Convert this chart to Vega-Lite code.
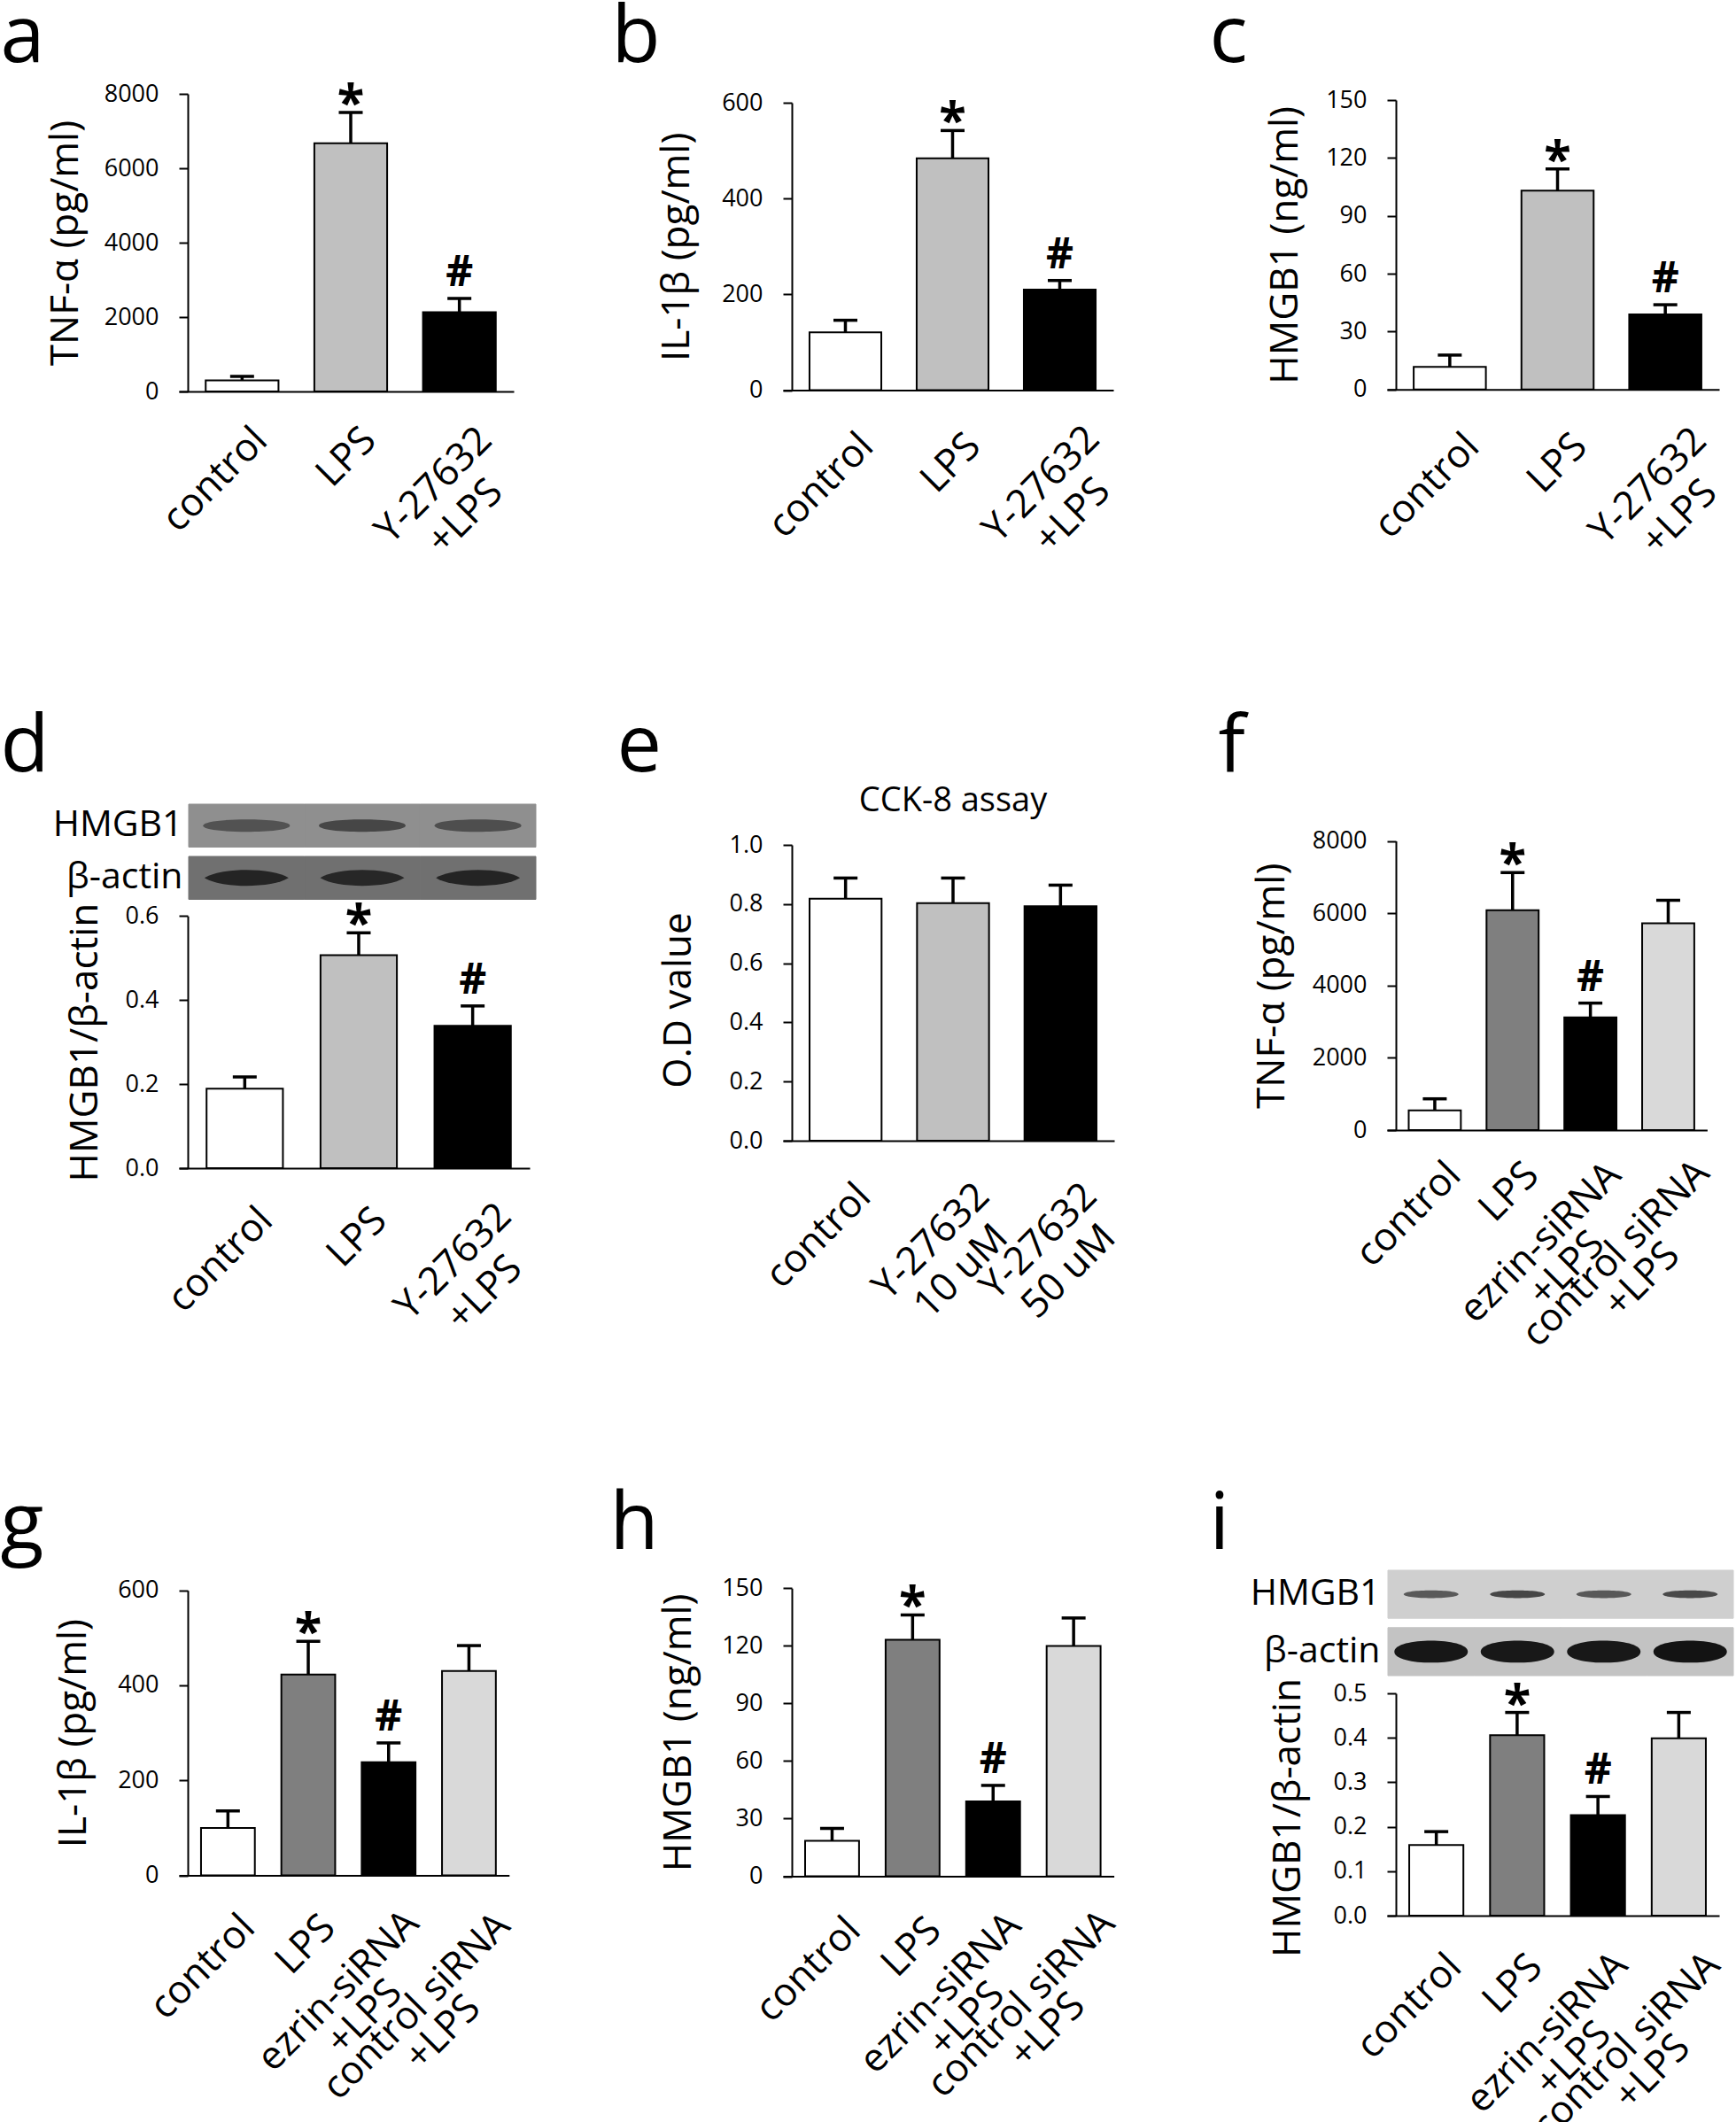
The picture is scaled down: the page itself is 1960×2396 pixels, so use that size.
{
  "$schema": "https://vega.github.io/schema/vega-lite/v6.json",
  "background": "white",
  "padding": {"left": 0, "top": -3, "right": 0, "bottom": 0},
  "datasets": {
    "a": [
      {"group": "control", "mean": 300, "upper": 405, "sig": ""},
      {"group": "LPS", "mean": 6670, "upper": 7500, "sig": "*"},
      {"group": "Y-27632\n+LPS", "mean": 2130, "upper": 2500, "sig": "#"}
    ],
    "b": [
      {"group": "control", "mean": 121, "upper": 146, "sig": ""},
      {"group": "LPS", "mean": 484, "upper": 542, "sig": "*"},
      {"group": "Y-27632\n+LPS", "mean": 210, "upper": 229, "sig": "#"}
    ],
    "c": [
      {"group": "control", "mean": 11.7, "upper": 17.8, "sig": ""},
      {"group": "LPS", "mean": 103.1, "upper": 114.3, "sig": "*"},
      {"group": "Y-27632\n+LPS", "mean": 38.9, "upper": 43.9, "sig": "#"}
    ],
    "d": [
      {"group": "control", "mean": 0.189, "upper": 0.217, "sig": ""},
      {"group": "LPS", "mean": 0.507, "upper": 0.56, "sig": "*"},
      {"group": "Y-27632\n+LPS", "mean": 0.339, "upper": 0.386, "sig": "#"}
    ],
    "e": [
      {"group": "control", "mean": 0.818, "upper": 0.888, "sig": ""},
      {"group": "Y-27632\n10 uM", "mean": 0.803, "upper": 0.888, "sig": ""},
      {"group": "Y-27632\n50 uM", "mean": 0.793, "upper": 0.864, "sig": ""}
    ],
    "f": [
      {"group": "control", "mean": 547, "upper": 865, "sig": ""},
      {"group": "LPS", "mean": 6085, "upper": 7124, "sig": "*"},
      {"group": "ezrin-siRNA\n+LPS", "mean": 3119, "upper": 3513, "sig": "#"},
      {"group": "control siRNA\n+LPS", "mean": 5724, "upper": 6358, "sig": ""}
    ],
    "g": [
      {"group": "control", "mean": 99.7, "upper": 135.7, "sig": ""},
      {"group": "LPS", "mean": 422.8, "upper": 492.9, "sig": "*"},
      {"group": "ezrin-siRNA\n+LPS", "mean": 238.2, "upper": 278.8, "sig": "#"},
      {"group": "control siRNA\n+LPS", "mean": 430.2, "upper": 483.7, "sig": ""}
    ],
    "h": [
      {"group": "control", "mean": 18.5, "upper": 24.9, "sig": ""},
      {"group": "LPS", "mean": 123.1, "upper": 136.1, "sig": "*"},
      {"group": "ezrin-siRNA\n+LPS", "mean": 39.0, "upper": 47.3, "sig": "#"},
      {"group": "control siRNA\n+LPS", "mean": 119.9, "upper": 134.5, "sig": ""}
    ],
    "i": [
      {"group": "control", "mean": 0.159, "upper": 0.189, "sig": ""},
      {"group": "LPS", "mean": 0.406, "upper": 0.457, "sig": "*"},
      {"group": "ezrin-siRNA\n+LPS", "mean": 0.226, "upper": 0.268, "sig": "#"},
      {"group": "control siRNA\n+LPS", "mean": 0.399, "upper": 0.457, "sig": ""}
    ],
    "blot_d": [
      {"lane": "control", "blot": "HMGB1", "intensity": 0.52},
      {"lane": "LPS", "blot": "HMGB1", "intensity": 0.62},
      {"lane": "Y-27632\n+LPS", "blot": "HMGB1", "intensity": 0.55},
      {"lane": "control", "blot": "β-actin", "intensity": 0.78},
      {"lane": "LPS", "blot": "β-actin", "intensity": 0.76},
      {"lane": "Y-27632\n+LPS", "blot": "β-actin", "intensity": 0.78}
    ],
    "blot_i": [
      {"lane": "control", "blot": "HMGB1", "intensity": 0.65},
      {"lane": "LPS", "blot": "HMGB1", "intensity": 0.76},
      {"lane": "ezrin-siRNA\n+LPS", "blot": "HMGB1", "intensity": 0.66},
      {"lane": "control siRNA\n+LPS", "blot": "HMGB1", "intensity": 0.74},
      {"lane": "control", "blot": "β-actin", "intensity": 0.93},
      {"lane": "LPS", "blot": "β-actin", "intensity": 0.92},
      {"lane": "ezrin-siRNA\n+LPS", "blot": "β-actin", "intensity": 0.92},
      {"lane": "control siRNA\n+LPS", "blot": "β-actin", "intensity": 0.95}
    ]
  },
  "concat": [
    {
      "width": 375, "height": 336,
      "data": {"name": "a"},
      "layer": [
        {"layer": [
          {"mark": {"type": "bar", "stroke": "#000000", "strokeWidth": 2},
           "encoding": {
             "x": {"field": "group", "type": "nominal", "scale": {"domain": ["control", "LPS", "Y-27632\n+LPS"], "range": [-10, 368], "paddingInner": 0.33, "paddingOuter": 0.2058, "align": 0.599},
                   "axis": {"title": null, "orient": "bottom", "labels": false}},
             "y": {"field": "mean", "type": "quantitative", "scale": {"domain": [0, 8000], "range": [336, 0], "nice": false},
                   "axis": {"title": "TNF-α (pg/ml)", "orient": "left", "values": [0, 2000, 4000, 6000, 8000], "format": "d", "titleX": -125}},
             "fill": {"field": "group", "type": "nominal", "scale": {"domain": ["control", "LPS", "Y-27632\n+LPS"], "range": ["#ffffff", "#c0c0c0", "#000000"]}, "legend": null}
           }},
          {"mark": {"type": "rule", "color": "#000000", "strokeWidth": 3.5},
           "encoding": {"x": {"field": "group", "type": "nominal"}, "y": {"field": "mean", "type": "quantitative"}, "y2": {"field": "upper"}}},
          {"mark": {"type": "tick", "color": "#000000", "opacity": 1, "size": 27, "thickness": 3.5},
           "encoding": {"x": {"field": "group", "type": "nominal"}, "y": {"field": "upper", "type": "quantitative"}}},
          {"transform": [{"filter": "datum.sig == '*'"}],
           "mark": {"type": "text", "fontSize": 56, "fontWeight": "bold", "baseline": "alphabetic", "dy": 8},
           "encoding": {"x": {"field": "group", "type": "nominal"}, "y": {"field": "upper", "type": "quantitative"}, "text": {"field": "sig"}}},
          {"transform": [{"filter": "datum.sig == '#'"}],
           "mark": {"type": "text", "fontSize": 48, "fontWeight": "bold", "baseline": "alphabetic", "dy": -14},
           "encoding": {"x": {"field": "group", "type": "nominal"}, "y": {"field": "upper", "type": "quantitative"}, "text": {"field": "sig"}}},
          {"transform": [{"filter": "indexof(datum.group, 'Y-27632') < 0"}],
           "mark": {"type": "text", "angle": -45, "align": "right", "baseline": "top", "fontSize": 44, "dx": -19.1, "dy": 27.6},
           "encoding": {"x": {"field": "group", "type": "nominal"}, "y": {"datum": 0, "type": "quantitative"}, "text": {"field": "group"}}},
          {"transform": [{"filter": "indexof(datum.group, 'Y-27632') >= 0"}],
           "mark": {"type": "text", "angle": -45, "align": "center", "baseline": "top", "fontSize": 44, "lineBreak": "\n", "lineHeight": 50, "dx": -95.4, "dy": 33.2},
           "encoding": {"x": {"field": "group", "type": "nominal"}, "y": {"datum": 0, "type": "quantitative"}, "text": {"field": "group"}}}
        ]},
        {"mark": {"type": "point", "opacity": 0},
         "encoding": {"x": {"field": "group", "type": "nominal", "axis": {"orient": "top", "labels": false, "ticks": false, "domain": false, "title": "a", "titleX": -212, "titleY": -37, "titleAlign": "left", "titleAngle": 0, "titleBaseline": "alphabetic", "titleFontSize": 90, "titleFontWeight": "normal"}}}}
      ],
      "resolve": {"axis": {"x": "independent"}}
    },
    {
      "width": 375, "height": 334.6,
      "data": {"name": "b"},
      "layer": [
        {"layer": [
          {"mark": {"type": "bar", "stroke": "#000000", "strokeWidth": 2},
           "encoding": {
             "x": {"field": "group", "type": "nominal", "scale": {"domain": ["control", "LPS", "Y-27632\n+LPS"], "range": [-10, 363], "paddingInner": 0.33, "paddingOuter": 0.2063, "align": 0.6},
                   "axis": {"title": null, "orient": "bottom", "labels": false}},
             "y": {"field": "mean", "type": "quantitative", "scale": {"domain": [0, 600], "range": [334.6, 10], "nice": false},
                   "axis": {"title": "IL-1β (pg/ml)", "orient": "left", "values": [0, 200, 400, 600], "format": "d", "titleX": -116.6}},
             "fill": {"field": "group", "type": "nominal", "scale": {"domain": ["control", "LPS", "Y-27632\n+LPS"], "range": ["#ffffff", "#c0c0c0", "#000000"]}, "legend": null}
           }},
          {"mark": {"type": "rule", "color": "#000000", "strokeWidth": 3.5},
           "encoding": {"x": {"field": "group", "type": "nominal"}, "y": {"field": "mean", "type": "quantitative"}, "y2": {"field": "upper"}}},
          {"mark": {"type": "tick", "color": "#000000", "opacity": 1, "size": 27, "thickness": 3.5},
           "encoding": {"x": {"field": "group", "type": "nominal"}, "y": {"field": "upper", "type": "quantitative"}}},
          {"transform": [{"filter": "datum.sig == '*'"}],
           "mark": {"type": "text", "fontSize": 56, "fontWeight": "bold", "baseline": "alphabetic", "dy": 8},
           "encoding": {"x": {"field": "group", "type": "nominal"}, "y": {"field": "upper", "type": "quantitative"}, "text": {"field": "sig"}}},
          {"transform": [{"filter": "datum.sig == '#'"}],
           "mark": {"type": "text", "fontSize": 48, "fontWeight": "bold", "baseline": "alphabetic", "dy": -14},
           "encoding": {"x": {"field": "group", "type": "nominal"}, "y": {"field": "upper", "type": "quantitative"}, "text": {"field": "sig"}}},
          {"transform": [{"filter": "indexof(datum.group, 'Y-27632') < 0"}],
           "mark": {"type": "text", "angle": -45, "align": "right", "baseline": "top", "fontSize": 44, "dx": -22.6, "dy": 35.4},
           "encoding": {"x": {"field": "group", "type": "nominal"}, "y": {"datum": 0, "type": "quantitative"}, "text": {"field": "group"}}},
          {"transform": [{"filter": "indexof(datum.group, 'Y-27632') >= 0"}],
           "mark": {"type": "text", "angle": -45, "align": "center", "baseline": "top", "fontSize": 44, "lineBreak": "\n", "lineHeight": 50, "dx": -89.8, "dy": 39},
           "encoding": {"x": {"field": "group", "type": "nominal"}, "y": {"datum": 0, "type": "quantitative"}, "text": {"field": "group"}}}
        ]},
        {"mark": {"type": "point", "opacity": 0},
         "encoding": {"x": {"field": "group", "type": "nominal", "axis": {"orient": "top", "labels": false, "ticks": false, "domain": false, "title": "b", "titleX": -204, "titleY": -37, "titleAlign": "left", "titleAngle": 0, "titleBaseline": "alphabetic", "titleFontSize": 90, "titleFontWeight": "normal"}}}}
      ],
      "resolve": {"axis": {"x": "independent"}}
    },
    {
      "width": 375, "height": 333.7,
      "data": {"name": "c"},
      "layer": [
        {"layer": [
          {"mark": {"type": "bar", "stroke": "#000000", "strokeWidth": 2},
           "encoding": {
             "x": {"field": "group", "type": "nominal", "scale": {"domain": ["control", "LPS", "Y-27632\n+LPS"], "range": [-10, 365], "paddingInner": 0.33, "paddingOuter": 0.2061, "align": 0.6},
                   "axis": {"title": null, "orient": "bottom", "labels": false}},
             "y": {"field": "mean", "type": "quantitative", "scale": {"domain": [0, 150], "range": [333.7, 7], "nice": false},
                   "axis": {"title": "HMGB1 (ng/ml)", "orient": "left", "values": [0, 30, 60, 90, 120, 150], "format": "d", "titleX": -111.6}},
             "fill": {"field": "group", "type": "nominal", "scale": {"domain": ["control", "LPS", "Y-27632\n+LPS"], "range": ["#ffffff", "#c0c0c0", "#000000"]}, "legend": null}
           }},
          {"mark": {"type": "rule", "color": "#000000", "strokeWidth": 3.5},
           "encoding": {"x": {"field": "group", "type": "nominal"}, "y": {"field": "mean", "type": "quantitative"}, "y2": {"field": "upper"}}},
          {"mark": {"type": "tick", "color": "#000000", "opacity": 1, "size": 27, "thickness": 3.5},
           "encoding": {"x": {"field": "group", "type": "nominal"}, "y": {"field": "upper", "type": "quantitative"}}},
          {"transform": [{"filter": "datum.sig == '*'"}],
           "mark": {"type": "text", "fontSize": 56, "fontWeight": "bold", "baseline": "alphabetic", "dy": 8},
           "encoding": {"x": {"field": "group", "type": "nominal"}, "y": {"field": "upper", "type": "quantitative"}, "text": {"field": "sig"}}},
          {"transform": [{"filter": "datum.sig == '#'"}],
           "mark": {"type": "text", "fontSize": 48, "fontWeight": "bold", "baseline": "alphabetic", "dy": -14},
           "encoding": {"x": {"field": "group", "type": "nominal"}, "y": {"field": "upper", "type": "quantitative"}, "text": {"field": "sig"}}},
          {"transform": [{"filter": "indexof(datum.group, 'Y-27632') < 0"}],
           "mark": {"type": "text", "angle": -45, "align": "right", "baseline": "top", "fontSize": 44, "dx": -22.4, "dy": 37.5},
           "encoding": {"x": {"field": "group", "type": "nominal"}, "y": {"datum": 0, "type": "quantitative"}, "text": {"field": "group"}}},
          {"transform": [{"filter": "indexof(datum.group, 'Y-27632') >= 0"}],
           "mark": {"type": "text", "angle": -45, "align": "center", "baseline": "top", "fontSize": 44, "lineBreak": "\n", "lineHeight": 50, "dx": -90.8, "dy": 42.1},
           "encoding": {"x": {"field": "group", "type": "nominal"}, "y": {"datum": 0, "type": "quantitative"}, "text": {"field": "group"}}}
        ]},
        {"mark": {"type": "point", "opacity": 0},
         "encoding": {"x": {"field": "group", "type": "nominal", "axis": {"orient": "top", "labels": false, "ticks": false, "domain": false, "title": "c", "titleX": -211, "titleY": -37, "titleAlign": "left", "titleAngle": 0, "titleBaseline": "alphabetic", "titleFontSize": 90, "titleFontWeight": "normal"}}}}
      ],
      "resolve": {"axis": {"x": "independent"}}
    },
    {
      "width": 375, "height": 423,
      "data": {"name": "d"},
      "layer": [
        {"layer": [
          {"mark": {"type": "bar", "stroke": "#000000", "strokeWidth": 2},
           "encoding": {
             "x": {"field": "group", "type": "nominal", "scale": {"domain": ["control", "LPS", "Y-27632\n+LPS"], "range": [-10, 386], "paddingInner": 0.33, "paddingOuter": 0.2039, "align": 0.595},
                   "axis": {"title": null, "orient": "bottom", "labels": false}},
             "y": {"field": "mean", "type": "quantitative", "scale": {"domain": [0, 0.6], "range": [423, 138.3], "nice": false},
                   "axis": {"title": "HMGB1/β-actin", "orient": "left", "values": [0, 0.2, 0.4, 0.6], "format": ".1f", "titleX": -103}},
             "fill": {"field": "group", "type": "nominal", "scale": {"domain": ["control", "LPS", "Y-27632\n+LPS"], "range": ["#ffffff", "#c0c0c0", "#000000"]}, "legend": null}
           }},
          {"mark": {"type": "rule", "color": "#000000", "strokeWidth": 3.5},
           "encoding": {"x": {"field": "group", "type": "nominal"}, "y": {"field": "mean", "type": "quantitative"}, "y2": {"field": "upper"}}},
          {"mark": {"type": "tick", "color": "#000000", "opacity": 1, "size": 27, "thickness": 3.5},
           "encoding": {"x": {"field": "group", "type": "nominal"}, "y": {"field": "upper", "type": "quantitative"}}},
          {"transform": [{"filter": "datum.sig == '*'"}],
           "mark": {"type": "text", "fontSize": 56, "fontWeight": "bold", "baseline": "alphabetic", "dy": 8},
           "encoding": {"x": {"field": "group", "type": "nominal"}, "y": {"field": "upper", "type": "quantitative"}, "text": {"field": "sig"}}},
          {"transform": [{"filter": "datum.sig == '#'"}],
           "mark": {"type": "text", "fontSize": 48, "fontWeight": "bold", "baseline": "alphabetic", "dy": -14},
           "encoding": {"x": {"field": "group", "type": "nominal"}, "y": {"field": "upper", "type": "quantitative"}, "text": {"field": "sig"}}},
          {"transform": [{"filter": "indexof(datum.group, 'Y-27632') < 0"}],
           "mark": {"type": "text", "angle": -45, "align": "right", "baseline": "top", "fontSize": 44, "dx": -19.8, "dy": 32.5},
           "encoding": {"x": {"field": "group", "type": "nominal"}, "y": {"datum": 0, "type": "quantitative"}, "text": {"field": "group"}}},
          {"transform": [{"filter": "indexof(datum.group, 'Y-27632') >= 0"}],
           "mark": {"type": "text", "angle": -45, "align": "center", "baseline": "top", "fontSize": 44, "lineBreak": "\n", "lineHeight": 50, "dx": -90.1, "dy": 37.8},
           "encoding": {"x": {"field": "group", "type": "nominal"}, "y": {"datum": 0, "type": "quantitative"}, "text": {"field": "group"}}}
        ]},
        {"data": {"name": "blot_d"},
         "layer": [
          {"transform": [{"filter": "datum.blot == 'HMGB1'"}],
           "mark": {"type": "rect", "fill": "#8f8f8f", "stroke": "#8f8f8f", "strokeWidth": 1},
           "encoding": {
             "x": {"field": "lane", "type": "nominal", "scale": {"domain": ["control", "LPS", "Y-27632\n+LPS"], "range": [1, 393], "paddingInner": 0, "paddingOuter": 0}, "axis": null},
             "y": {"field": "blot", "type": "nominal", "scale": {"domain": ["HMGB1", "β-actin"], "range": [12, 119.5], "paddingInner": 0.178, "paddingOuter": 0},
                   "axis": {"orient": "left", "title": null, "domain": false, "ticks": false, "tickSize": 0, "labelFontSize": 41, "labelPadding": 6}}
           }},
          {"transform": [{"filter": "datum.blot == 'β-actin'"}],
           "mark": {"type": "rect", "fill": "#707070", "stroke": "#707070", "strokeWidth": 1},
           "encoding": {"x": {"field": "lane", "type": "nominal", "axis": null}, "y": {"field": "blot", "type": "nominal"}}},
          {"transform": [{"filter": "datum.blot == 'HMGB1'"}],
           "mark": {"type": "point", "filled": true, "shape": "M-1,0C-1,-0.19 1,-0.19 1,0C1,0.19 -1,0.19 -1,0Z", "size": 9600, "color": "#1a1a1a", "strokeWidth": 0},
           "encoding": {"x": {"field": "lane", "type": "nominal", "axis": null}, "y": {"field": "blot", "type": "nominal"},
                        "opacity": {"field": "intensity", "type": "quantitative", "scale": {"domain": [0, 1], "range": [0, 1]}, "legend": null}}},
          {"transform": [{"filter": "datum.blot == 'β-actin'"}],
           "mark": {"type": "point", "filled": true, "shape": "M-1,0C-0.6,-0.25 0.6,-0.25 1,0C0.6,0.25 -0.6,0.25 -1,0Z", "size": 9025, "color": "#101010", "strokeWidth": 0},
           "encoding": {"x": {"field": "lane", "type": "nominal", "axis": null}, "y": {"field": "blot", "type": "nominal"},
                        "opacity": {"field": "intensity", "type": "quantitative"}}}
         ]},
        {"mark": {"type": "point", "opacity": 0},
         "encoding": {"x": {"field": "group", "type": "nominal", "axis": {"orient": "top", "labels": false, "ticks": false, "domain": false, "title": "d", "titleX": -212, "titleY": -26, "titleAlign": "left", "titleAngle": 0, "titleBaseline": "alphabetic", "titleFontSize": 90, "titleFontWeight": "normal"}}}}
      ],
      "resolve": {"scale": {"x": "independent", "y": "independent"}, "axis": {"x": "independent", "y": "independent"}}
    },
    {
      "width": 375, "height": 392,
      "data": {"name": "e"},
      "layer": [
        {"layer": [
          {"mark": {"type": "bar", "stroke": "#000000", "strokeWidth": 2},
           "encoding": {
             "x": {"field": "group", "type": "nominal", "scale": {"domain": ["control", "Y-27632\n10 uM", "Y-27632\n50 uM"], "range": [-10, 364], "paddingInner": 0.33, "paddingOuter": 0.2062, "align": 0.6},
                   "axis": {"title": null, "orient": "bottom", "labels": false}},
             "y": {"field": "mean", "type": "quantitative", "scale": {"domain": [0, 1], "range": [392, 58], "nice": false},
                   "axis": {"title": "O.D value", "orient": "left", "values": [0, 0.2, 0.4, 0.6, 0.8, 1.0], "format": ".1f", "titleX": -114.4, "titleY": 233}},
             "fill": {"field": "group", "type": "nominal", "scale": {"domain": ["control", "Y-27632\n10 uM", "Y-27632\n50 uM"], "range": ["#ffffff", "#c0c0c0", "#000000"]}, "legend": null}
           }},
          {"mark": {"type": "rule", "color": "#000000", "strokeWidth": 3.5},
           "encoding": {"x": {"field": "group", "type": "nominal"}, "y": {"field": "mean", "type": "quantitative"}, "y2": {"field": "upper"}}},
          {"mark": {"type": "tick", "color": "#000000", "opacity": 1, "size": 27, "thickness": 3.5},
           "encoding": {"x": {"field": "group", "type": "nominal"}, "y": {"field": "upper", "type": "quantitative"}}},
          {"transform": [{"filter": "indexof(datum.group, 'Y-27632') < 0"}],
           "mark": {"type": "text", "angle": -45, "align": "right", "baseline": "top", "fontSize": 44, "dx": -24.7, "dy": 33.2},
           "encoding": {"x": {"field": "group", "type": "nominal"}, "y": {"datum": 0, "type": "quantitative"}, "text": {"field": "group"}}},
          {"transform": [{"filter": "indexof(datum.group, 'Y-27632') >= 0"}],
           "mark": {"type": "text", "angle": -45, "align": "center", "baseline": "top", "fontSize": 44, "lineBreak": "\n", "lineHeight": 48, "dx": -97.9, "dy": 41.7},
           "encoding": {"x": {"field": "group", "type": "nominal"}, "y": {"datum": 0, "type": "quantitative"}, "text": {"field": "group"}}},
          {"data": {"values": [{"title": "CCK-8 assay"}]},
           "mark": {"type": "text", "fontSize": 38, "baseline": "alphabetic"},
           "encoding": {"x": {"datum": "Y-27632\n10 uM", "type": "nominal"}, "y": {"datum": 1.114, "type": "quantitative"}, "text": {"field": "title"}}}
        ]},
        {"mark": {"type": "point", "opacity": 0},
         "encoding": {"x": {"field": "group", "type": "nominal", "axis": {"orient": "top", "labels": false, "ticks": false, "domain": false, "title": "e", "titleX": -198, "titleY": -26, "titleAlign": "left", "titleAngle": 0, "titleBaseline": "alphabetic", "titleFontSize": 90, "titleFontWeight": "normal"}}}}
      ],
      "resolve": {"axis": {"x": "independent"}}
    },
    {
      "width": 375, "height": 380,
      "data": {"name": "f"},
      "layer": [
        {"layer": [
          {"mark": {"type": "bar", "stroke": "#000000", "strokeWidth": 2},
           "encoding": {
             "x": {"field": "group", "type": "nominal", "scale": {"domain": ["control", "LPS", "ezrin-siRNA\n+LPS", "control siRNA\n+LPS"], "range": [-10, 351.4], "paddingInner": 0.33, "paddingOuter": 0.2219, "align": 0.628},
                   "axis": {"title": null, "orient": "bottom", "labels": false}},
             "y": {"field": "mean", "type": "quantitative", "scale": {"domain": [0, 8000], "range": [380, 53.5], "nice": false},
                   "axis": {"title": "TNF-α (pg/ml)", "orient": "left", "values": [0, 2000, 4000, 6000, 8000], "format": "d", "titleX": -127}},
             "fill": {"field": "group", "type": "nominal", "scale": {"domain": ["control", "LPS", "ezrin-siRNA\n+LPS", "control siRNA\n+LPS"], "range": ["#ffffff", "#7f7f7f", "#000000", "#d9d9d9"]}, "legend": null}
           }},
          {"mark": {"type": "rule", "color": "#000000", "strokeWidth": 3.5},
           "encoding": {"x": {"field": "group", "type": "nominal"}, "y": {"field": "mean", "type": "quantitative"}, "y2": {"field": "upper"}}},
          {"mark": {"type": "tick", "color": "#000000", "opacity": 1, "size": 27, "thickness": 3.5},
           "encoding": {"x": {"field": "group", "type": "nominal"}, "y": {"field": "upper", "type": "quantitative"}}},
          {"transform": [{"filter": "datum.sig == '*'"}],
           "mark": {"type": "text", "fontSize": 56, "fontWeight": "bold", "baseline": "alphabetic", "dy": 8},
           "encoding": {"x": {"field": "group", "type": "nominal"}, "y": {"field": "upper", "type": "quantitative"}, "text": {"field": "sig"}}},
          {"transform": [{"filter": "datum.sig == '#'"}],
           "mark": {"type": "text", "fontSize": 48, "fontWeight": "bold", "baseline": "alphabetic", "dy": -14},
           "encoding": {"x": {"field": "group", "type": "nominal"}, "y": {"field": "upper", "type": "quantitative"}, "text": {"field": "sig"}}},
          {"transform": [{"filter": "indexof(datum.group, 'siRNA') < 0"}],
           "mark": {"type": "text", "angle": -45, "align": "right", "baseline": "top", "fontSize": 44, "dx": -15.3, "dy": 25.2},
           "encoding": {"x": {"field": "group", "type": "nominal"}, "y": {"datum": 0, "type": "quantitative"}, "text": {"field": "group"}}},
          {"transform": [{"filter": "indexof(datum.group, 'ezrin') >= 0"}],
           "mark": {"type": "text", "angle": -45, "align": "center", "baseline": "top", "fontSize": 44, "lineBreak": "\n", "lineHeight": 42, "dx": -129.7, "dy": 28.7},
           "encoding": {"x": {"field": "group", "type": "nominal"}, "y": {"datum": 0, "type": "quantitative"}, "text": {"field": "group"}}},
          {"transform": [{"filter": "indexof(datum.group, 'control siRNA') >= 0"}],
           "mark": {"type": "text", "angle": -45, "align": "center", "baseline": "top", "fontSize": 44, "lineBreak": "\n", "lineHeight": 42, "dx": -140.4, "dy": 35.4},
           "encoding": {"x": {"field": "group", "type": "nominal"}, "y": {"datum": 0, "type": "quantitative"}, "text": {"field": "group"}}}
        ]},
        {"mark": {"type": "point", "opacity": 0},
         "encoding": {"x": {"field": "group", "type": "nominal", "axis": {"orient": "top", "labels": false, "ticks": false, "domain": false, "title": "f", "titleX": -201, "titleY": -26, "titleAlign": "left", "titleAngle": 0, "titleBaseline": "alphabetic", "titleFontSize": 90, "titleFontWeight": "normal"}}}}
      ],
      "resolve": {"axis": {"x": "independent"}}
    },
    {
      "width": 375, "height": 344.5,
      "data": {"name": "g"},
      "layer": [
        {"layer": [
          {"mark": {"type": "bar", "stroke": "#000000", "strokeWidth": 2},
           "encoding": {
             "x": {"field": "group", "type": "nominal", "scale": {"domain": ["control", "LPS", "ezrin-siRNA\n+LPS", "control siRNA\n+LPS"], "range": [-10, 362.8], "paddingInner": 0.33, "paddingOuter": 0.2201, "align": 0.625},
                   "axis": {"title": null, "orient": "bottom", "labels": false}},
             "y": {"field": "mean", "type": "quantitative", "scale": {"domain": [0, 600], "range": [344.5, 22.7], "nice": false},
                   "axis": {"title": "IL-1β (pg/ml)", "orient": "left", "values": [0, 200, 400, 600], "format": "d", "titleX": -116}},
             "fill": {"field": "group", "type": "nominal", "scale": {"domain": ["control", "LPS", "ezrin-siRNA\n+LPS", "control siRNA\n+LPS"], "range": ["#ffffff", "#7f7f7f", "#000000", "#d9d9d9"]}, "legend": null}
           }},
          {"mark": {"type": "rule", "color": "#000000", "strokeWidth": 3.5},
           "encoding": {"x": {"field": "group", "type": "nominal"}, "y": {"field": "mean", "type": "quantitative"}, "y2": {"field": "upper"}}},
          {"mark": {"type": "tick", "color": "#000000", "opacity": 1, "size": 27, "thickness": 3.5},
           "encoding": {"x": {"field": "group", "type": "nominal"}, "y": {"field": "upper", "type": "quantitative"}}},
          {"transform": [{"filter": "datum.sig == '*'"}],
           "mark": {"type": "text", "fontSize": 56, "fontWeight": "bold", "baseline": "alphabetic", "dy": 8},
           "encoding": {"x": {"field": "group", "type": "nominal"}, "y": {"field": "upper", "type": "quantitative"}, "text": {"field": "sig"}}},
          {"transform": [{"filter": "datum.sig == '#'"}],
           "mark": {"type": "text", "fontSize": 48, "fontWeight": "bold", "baseline": "alphabetic", "dy": -14},
           "encoding": {"x": {"field": "group", "type": "nominal"}, "y": {"field": "upper", "type": "quantitative"}, "text": {"field": "sig"}}},
          {"transform": [{"filter": "indexof(datum.group, 'siRNA') < 0"}],
           "mark": {"type": "text", "angle": -45, "align": "right", "baseline": "top", "fontSize": 44, "dx": -20.5, "dy": 31.8},
           "encoding": {"x": {"field": "group", "type": "nominal"}, "y": {"datum": 0, "type": "quantitative"}, "text": {"field": "group"}}},
          {"transform": [{"filter": "indexof(datum.group, 'ezrin') >= 0"}],
           "mark": {"type": "text", "angle": -45, "align": "center", "baseline": "top", "fontSize": 44, "lineBreak": "\n", "lineHeight": 42, "dx": -132.5, "dy": 30.8},
           "encoding": {"x": {"field": "group", "type": "nominal"}, "y": {"datum": 0, "type": "quantitative"}, "text": {"field": "group"}}},
          {"transform": [{"filter": "indexof(datum.group, 'control siRNA') >= 0"}],
           "mark": {"type": "text", "angle": -45, "align": "center", "baseline": "top", "fontSize": 44, "lineBreak": "\n", "lineHeight": 42, "dx": -146.4, "dy": 41.4},
           "encoding": {"x": {"field": "group", "type": "nominal"}, "y": {"datum": 0, "type": "quantitative"}, "text": {"field": "group"}}}
        ]},
        {"mark": {"type": "point", "opacity": 0},
         "encoding": {"x": {"field": "group", "type": "nominal", "axis": {"orient": "top", "labels": false, "ticks": false, "domain": false, "title": "g", "titleX": -212, "titleY": -25, "titleAlign": "left", "titleAngle": 0, "titleBaseline": "alphabetic", "titleFontSize": 90, "titleFontWeight": "normal"}}}}
      ],
      "resolve": {"axis": {"x": "independent"}}
    },
    {
      "width": 375, "height": 345.5,
      "data": {"name": "h"},
      "layer": [
        {"layer": [
          {"mark": {"type": "bar", "stroke": "#000000", "strokeWidth": 2},
           "encoding": {
             "x": {"field": "group", "type": "nominal", "scale": {"domain": ["control", "LPS", "ezrin-siRNA\n+LPS", "control siRNA\n+LPS"], "range": [-10, 363.6], "paddingInner": 0.33, "paddingOuter": 0.22, "align": 0.625},
                   "axis": {"title": null, "orient": "bottom", "labels": false}},
             "y": {"field": "mean", "type": "quantitative", "scale": {"domain": [0, 150], "range": [345.5, 20.3], "nice": false},
                   "axis": {"title": "HMGB1 (ng/ml)", "orient": "left", "values": [0, 30, 60, 90, 120, 150], "format": "d", "titleX": -115}},
             "fill": {"field": "group", "type": "nominal", "scale": {"domain": ["control", "LPS", "ezrin-siRNA\n+LPS", "control siRNA\n+LPS"], "range": ["#ffffff", "#7f7f7f", "#000000", "#d9d9d9"]}, "legend": null}
           }},
          {"mark": {"type": "rule", "color": "#000000", "strokeWidth": 3.5},
           "encoding": {"x": {"field": "group", "type": "nominal"}, "y": {"field": "mean", "type": "quantitative"}, "y2": {"field": "upper"}}},
          {"mark": {"type": "tick", "color": "#000000", "opacity": 1, "size": 27, "thickness": 3.5},
           "encoding": {"x": {"field": "group", "type": "nominal"}, "y": {"field": "upper", "type": "quantitative"}}},
          {"transform": [{"filter": "datum.sig == '*'"}],
           "mark": {"type": "text", "fontSize": 56, "fontWeight": "bold", "baseline": "alphabetic", "dy": 8},
           "encoding": {"x": {"field": "group", "type": "nominal"}, "y": {"field": "upper", "type": "quantitative"}, "text": {"field": "sig"}}},
          {"transform": [{"filter": "datum.sig == '#'"}],
           "mark": {"type": "text", "fontSize": 48, "fontWeight": "bold", "baseline": "alphabetic", "dy": -14},
           "encoding": {"x": {"field": "group", "type": "nominal"}, "y": {"field": "upper", "type": "quantitative"}, "text": {"field": "sig"}}},
          {"transform": [{"filter": "indexof(datum.group, 'siRNA') < 0"}],
           "mark": {"type": "text", "angle": -45, "align": "right", "baseline": "top", "fontSize": 44, "dx": -20.6, "dy": 34.4},
           "encoding": {"x": {"field": "group", "type": "nominal"}, "y": {"datum": 0, "type": "quantitative"}, "text": {"field": "group"}}},
          {"transform": [{"filter": "indexof(datum.group, 'ezrin') >= 0"}],
           "mark": {"type": "text", "angle": -45, "align": "center", "baseline": "top", "fontSize": 44, "lineBreak": "\n", "lineHeight": 42, "dx": -135.3, "dy": 30.1},
           "encoding": {"x": {"field": "group", "type": "nominal"}, "y": {"datum": 0, "type": "quantitative"}, "text": {"field": "group"}}},
          {"transform": [{"filter": "indexof(datum.group, 'control siRNA') >= 0"}],
           "mark": {"type": "text", "angle": -45, "align": "center", "baseline": "top", "fontSize": 44, "lineBreak": "\n", "lineHeight": 42, "dx": -143.9, "dy": 38.9},
           "encoding": {"x": {"field": "group", "type": "nominal"}, "y": {"datum": 0, "type": "quantitative"}, "text": {"field": "group"}}}
        ]},
        {"mark": {"type": "point", "opacity": 0},
         "encoding": {"x": {"field": "group", "type": "nominal", "axis": {"orient": "top", "labels": false, "ticks": false, "domain": false, "title": "h", "titleX": -206, "titleY": -25, "titleAlign": "left", "titleAngle": 0, "titleBaseline": "alphabetic", "titleFontSize": 90, "titleFontWeight": "normal"}}}}
      ],
      "resolve": {"axis": {"x": "independent"}}
    },
    {
      "width": 375, "height": 390,
      "data": {"name": "i"},
      "layer": [
        {"layer": [
          {"mark": {"type": "bar", "stroke": "#000000", "strokeWidth": 2},
           "encoding": {
             "x": {"field": "group", "type": "nominal", "scale": {"domain": ["control", "LPS", "ezrin-siRNA\n+LPS", "control siRNA\n+LPS"], "range": [-10, 365], "paddingInner": 0.33, "paddingOuter": 0.2198, "align": 0.625},
                   "axis": {"title": null, "orient": "bottom", "labels": false}},
             "y": {"field": "mean", "type": "quantitative", "scale": {"domain": [0, 0.5], "range": [390, 139], "nice": false},
                   "axis": {"title": "HMGB1/β-actin", "orient": "left", "values": [0, 0.1, 0.2, 0.3, 0.4, 0.5], "format": ".1f", "titleX": -108.6, "titleY": 279}},
             "fill": {"field": "group", "type": "nominal", "scale": {"domain": ["control", "LPS", "ezrin-siRNA\n+LPS", "control siRNA\n+LPS"], "range": ["#ffffff", "#7f7f7f", "#000000", "#d9d9d9"]}, "legend": null}
           }},
          {"mark": {"type": "rule", "color": "#000000", "strokeWidth": 3.5},
           "encoding": {"x": {"field": "group", "type": "nominal"}, "y": {"field": "mean", "type": "quantitative"}, "y2": {"field": "upper"}}},
          {"mark": {"type": "tick", "color": "#000000", "opacity": 1, "size": 27, "thickness": 3.5},
           "encoding": {"x": {"field": "group", "type": "nominal"}, "y": {"field": "upper", "type": "quantitative"}}},
          {"transform": [{"filter": "datum.sig == '*'"}],
           "mark": {"type": "text", "fontSize": 56, "fontWeight": "bold", "baseline": "alphabetic", "dy": 8},
           "encoding": {"x": {"field": "group", "type": "nominal"}, "y": {"field": "upper", "type": "quantitative"}, "text": {"field": "sig"}}},
          {"transform": [{"filter": "datum.sig == '#'"}],
           "mark": {"type": "text", "fontSize": 48, "fontWeight": "bold", "baseline": "alphabetic", "dy": -14},
           "encoding": {"x": {"field": "group", "type": "nominal"}, "y": {"field": "upper", "type": "quantitative"}, "text": {"field": "sig"}}},
          {"transform": [{"filter": "indexof(datum.group, 'siRNA') < 0"}],
           "mark": {"type": "text", "angle": -45, "align": "right", "baseline": "top", "fontSize": 44, "dx": -21.2, "dy": 29.7},
           "encoding": {"x": {"field": "group", "type": "nominal"}, "y": {"datum": 0, "type": "quantitative"}, "text": {"field": "group"}}},
          {"transform": [{"filter": "indexof(datum.group, 'ezrin') >= 0"}],
           "mark": {"type": "text", "angle": -45, "align": "center", "baseline": "top", "fontSize": 44, "lineBreak": "\n", "lineHeight": 42, "dx": -134.1, "dy": 31.6},
           "encoding": {"x": {"field": "group", "type": "nominal"}, "y": {"datum": 0, "type": "quantitative"}, "text": {"field": "group"}}},
          {"transform": [{"filter": "indexof(datum.group, 'control siRNA') >= 0"}],
           "mark": {"type": "text", "angle": -45, "align": "center", "baseline": "top", "fontSize": 44, "lineBreak": "\n", "lineHeight": 42, "dx": -145.9, "dy": 40.8},
           "encoding": {"x": {"field": "group", "type": "nominal"}, "y": {"datum": 0, "type": "quantitative"}, "text": {"field": "group"}}}
        ]},
        {"data": {"name": "blot_i"},
         "layer": [
          {"transform": [{"filter": "datum.blot == 'HMGB1'"}],
           "mark": {"type": "rect", "fill": "#cfcfcf", "stroke": "#cfcfcf", "strokeWidth": 1},
           "encoding": {
             "x": {"field": "lane", "type": "nominal", "scale": {"domain": ["control", "LPS", "ezrin-siRNA\n+LPS", "control siRNA\n+LPS"], "range": [-9, 381], "paddingInner": 0, "paddingOuter": 0}, "axis": null},
             "y": {"field": "blot", "type": "nominal", "scale": {"domain": ["HMGB1", "β-actin"], "range": [0, 119], "paddingInner": 0.163, "paddingOuter": 0},
                   "axis": {"orient": "left", "title": null, "domain": false, "ticks": false, "tickSize": 0, "labelFontSize": 41, "labelPadding": 18}}
           }},
          {"transform": [{"filter": "datum.blot == 'β-actin'"}],
           "mark": {"type": "rect", "fill": "#c3c3c3", "stroke": "#c3c3c3", "strokeWidth": 1},
           "encoding": {"x": {"field": "lane", "type": "nominal", "axis": null}, "y": {"field": "blot", "type": "nominal"}}},
          {"transform": [{"filter": "datum.blot == 'HMGB1'"}],
           "mark": {"type": "point", "filled": true, "shape": "M-1,0C-1,-0.19 1,-0.19 1,0C1,0.19 -1,0.19 -1,0Z", "size": 3844, "color": "#1a1a1a", "strokeWidth": 0},
           "encoding": {"x": {"field": "lane", "type": "nominal", "axis": null}, "y": {"field": "blot", "type": "nominal"},
                        "opacity": {"field": "intensity", "type": "quantitative", "scale": {"domain": [0, 1], "range": [0, 1]}, "legend": null}}},
          {"transform": [{"filter": "datum.blot == 'β-actin'"}],
           "mark": {"type": "point", "filled": true, "shape": "M-1,0C-1,-0.4 1,-0.4 1,0C1,0.4 -1,0.4 -1,0Z", "size": 6889, "color": "#0a0a0a", "strokeWidth": 0},
           "encoding": {"x": {"field": "lane", "type": "nominal", "axis": null}, "y": {"field": "blot", "type": "nominal"},
                        "opacity": {"field": "intensity", "type": "quantitative"}}}
         ]},
        {"mark": {"type": "point", "opacity": 0},
         "encoding": {"x": {"field": "group", "type": "nominal", "axis": {"orient": "top", "labels": false, "ticks": false, "domain": false, "title": "i", "titleX": -211, "titleY": -25, "titleAlign": "left", "titleAngle": 0, "titleBaseline": "alphabetic", "titleFontSize": 90, "titleFontWeight": "normal"}}}}
      ],
      "resolve": {"scale": {"x": "independent", "y": "independent"}, "axis": {"x": "independent", "y": "independent"}}
    }
  ],
  "columns": 3,
  "spacing": {"row": 454, "column": 307},
  "bounds": "flush",
  "align": "each",
  "resolve": {"scale": {"fill": "independent", "opacity": "independent"}},
  "config": {
    "font": "Open Sans",
    "view": {"stroke": null},
    "axis": {"grid": false, "labelFont": "Open Sans", "titleFont": "Open Sans", "labelColor": "#000000", "titleColor": "#000000", "domainColor": "#000000", "tickColor": "#000000", "titleFontWeight": "normal"},
    "axisX": {"ticks": false, "tickSize": 0, "domainWidth": 2},
    "axisY": {"tickSize": 10, "tickWidth": 2, "domainWidth": 2, "labelPadding": 23, "labelFontSize": 27, "titleFontSize": 44, "titleBaseline": "alphabetic", "labelLimit": 0},
    "text": {"font": "Open Sans", "color": "#000000"}
  }
}
